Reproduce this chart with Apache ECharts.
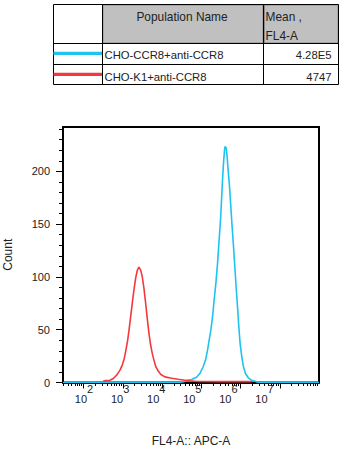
<!DOCTYPE html>
<html>
<head>
<meta charset="utf-8">
<style>
  html, body { margin: 0; padding: 0; background: #fff; overflow: hidden; }
  #chart { width: 344px; height: 454px; }
</style>
<script src="https://cdn.jsdelivr.net/npm/echarts@6/dist/echarts.min.js"></script>
</head>
<body>
<div id="chart"></div>
<script>
// Populations shown in the overlay table
const populations = ['CHO-CCR8+anti-CCR8', 'CHO-K1+anti-CCR8'];
const meanValues = ['4.28E5', '4747'];
const seriesColors = ['#1ec3ef', '#f4383c'];

// Histogram traces: x is log10(FL4-A), y is event count
const ccr8Log = [1.477, 4.45, 4.55, 4.64, 4.753, 4.880, 4.964, 5.048, 5.109, 5.160, 5.201, 5.244, 5.288, 5.328, 5.372, 5.415, 5.455, 5.491, 5.517, 5.542, 5.567, 5.593, 5.608, 5.634, 5.659, 5.684, 5.720, 5.753, 5.786, 5.822, 5.855, 5.888, 5.924, 5.957, 5.990, 6.033, 6.076, 6.127, 6.193, 6.280, 6.364, 6.44, 6.52, 8.0];
const ccr8Count = [0, 0, 0.8, 2.0, 2.8, 5.0, 8.5, 14.9, 21.2, 30.7, 40.2, 49.7, 62.4, 78.1, 93.9, 112.9, 135.0, 154.0, 173.0, 192.0, 207.8, 220.5, 223.6, 222.1, 214.1, 201.5, 185.7, 166.7, 147.7, 128.7, 109.7, 90.7, 71.7, 52.7, 36.9, 24.2, 14.8, 8.5, 4.7, 2.2, 1.5, 0.3, 0, 0];

const k1Log = [2.504, 2.674, 2.758, 2.845, 2.929, 2.987, 3.038, 3.081, 3.125, 3.165, 3.201, 3.242, 3.285, 3.328, 3.369, 3.412, 3.455, 3.496, 3.539, 3.583, 3.623, 3.667, 3.710, 3.751, 3.794, 3.837, 3.903, 3.972, 4.074, 4.244, 4.412, 4.583, 4.710, 4.9, 5.5, 6.28];
const k1Count = [1.5, 2.2, 3.8, 7.0, 11.7, 16.5, 22.8, 30.7, 40.2, 51.3, 62.4, 75.1, 87.7, 98.8, 106.1, 109.3, 106.7, 100.4, 89.4, 75.1, 60.9, 46.6, 35.5, 27.6, 21.2, 15.5, 10.8, 7.6, 5.3, 4.1, 3.1, 2.2, 1.5, 1.0, 0.8, 0.8];

// Axis ticks
const decadeExponents = [2, 3, 4, 5, 6, 7];
const minorMultipliers = [2, 3, 4, 5, 6, 7, 8, 9];
const minorDecades = [1, 2, 3, 4, 5, 6, 7];
const yTickValues = [0, 50, 100, 150, 200];

const xMin = Math.log10(30);
const xMax = 8;

const minorTickValues = [];
minorDecades.forEach(d => minorMultipliers.forEach(m => {
  const v = d + Math.log10(m);
  if (v >= xMin - 1e-9 && v <= xMax) minorTickValues.push(v);
}));

const zip = (xs, ys) => xs.map((x, i) => [x, ys[i]]);

const FONT = '"Liberation Sans", Arial, sans-serif';
const TEXT = '#222';

// Overlay table drawn above the plot
const tbl = { left: 53.5, right: 338.5, top: 4.5, head: 43.5, mid: 64.5, bottom: 84.5, c1: 102.5, c2: 263.5 };
const rowY = [55, 76.5];
const swatchY = [53.3, 74.3];

const tableGraphics = [
  { type: 'rect', shape: { x: tbl.c1 + 0.5, y: tbl.top + 0.5, width: tbl.c2 - tbl.c1 - 1, height: tbl.head - tbl.top - 1 },
    style: { fill: '#c0c0c0', stroke: '#8a8a8a', lineWidth: 1 } },
  { type: 'rect', shape: { x: tbl.c2 + 1, y: tbl.top + 0.5, width: tbl.right - tbl.c2 - 1.5, height: tbl.head - tbl.top - 1 },
    style: { fill: '#c0c0c0', stroke: '#8a8a8a', lineWidth: 1 } },
  { type: 'rect', shape: { x: tbl.left, y: tbl.top, width: tbl.right - tbl.left, height: tbl.bottom - tbl.top },
    style: { fill: 'none', stroke: '#000', lineWidth: 1 } },
  { type: 'line', shape: { x1: tbl.c1, y1: tbl.top, x2: tbl.c1, y2: tbl.bottom }, style: { stroke: '#000', lineWidth: 1 } },
  { type: 'line', shape: { x1: tbl.c2, y1: tbl.top, x2: tbl.c2, y2: tbl.bottom }, style: { stroke: '#000', lineWidth: 1 } },
  { type: 'line', shape: { x1: tbl.left, y1: tbl.head, x2: tbl.right, y2: tbl.head }, style: { stroke: '#000', lineWidth: 1 } },
  { type: 'line', shape: { x1: tbl.left, y1: tbl.mid, x2: tbl.right, y2: tbl.mid }, style: { stroke: '#000', lineWidth: 1 } },
  { type: 'text', style: { text: 'Population Name', x: 182, y: 17, font: '11.9px ' + FONT, fill: TEXT, textAlign: 'center', textVerticalAlign: 'middle' } },
  { type: 'text', style: { text: 'Mean ,', x: 265.5, y: 17, font: '11.9px ' + FONT, fill: TEXT, textAlign: 'left', textVerticalAlign: 'middle' } },
  { type: 'text', style: { text: 'FL4-A', x: 265.5, y: 35.5, font: '11.9px ' + FONT, fill: TEXT, textAlign: 'left', textVerticalAlign: 'middle' } }
];
populations.forEach((name, i) => {
  tableGraphics.push(
    { type: 'line', shape: { x1: tbl.left, y1: swatchY[i], x2: tbl.c1 - 0.5, y2: swatchY[i] }, style: { stroke: seriesColors[i], lineWidth: 3.3 } },
    { type: 'text', style: { text: name, x: 104.5, y: rowY[i], font: '11.3px ' + FONT, fill: TEXT, textAlign: 'left', textVerticalAlign: 'middle' } },
    { type: 'text', style: { text: meanValues[i], x: 331.5, y: rowY[i], font: '11.3px ' + FONT, fill: TEXT, textAlign: 'right', textVerticalAlign: 'middle' } }
  );
});

const chart = echarts.init(document.getElementById('chart'), null, { renderer: 'svg' });

chart.setOption({
  animation: false,
  backgroundColor: '#fff',
  textStyle: { fontFamily: FONT },
  grid: {
    left: 63, right: 25, top: 127, bottom: 71.5,
    containLabel: false, outerBoundsMode: 'none',
    show: true, borderColor: '#000', borderWidth: 2, backgroundColor: 'transparent'
  },
  xAxis: [
    {
      // data axis with the decade ticks
      type: 'value', min: xMin, max: xMax, position: 'bottom',
      name: 'FL4-A:: APC-A', nameLocation: 'middle', nameGap: 52,
      nameTextStyle: { fontSize: 12, color: TEXT, fontFamily: FONT },
      axisLine: { show: true, lineStyle: { color: '#000', width: 2 } },
      axisTick: { show: true, customValues: decadeExponents, length: 6, lineStyle: { color: '#000', width: 1 } },
      axisLabel: { show: false },
      splitLine: { show: false }
    },
    {
      // minor (2..9 x 10^n) ticks
      type: 'value', min: xMin, max: xMax, position: 'bottom',
      axisLine: { show: false },
      axisTick: { show: true, customValues: minorTickValues, length: 3.5, lineStyle: { color: '#000', width: 1 } },
      axisLabel: { show: false },
      splitLine: { show: false }
    },
    {
      // decade labels
      type: 'value', min: 1.418, max: 8.51, position: 'bottom',
      axisLine: { show: false },
      axisTick: { show: false },
      splitLine: { show: false },
      axisLabel: {
        show: true, margin: 0.7,
        customValues: decadeExponents,
        formatter: v => '{b|10}{s|' + v + '}',
        rich: {
          b: { fontSize: 11, color: TEXT, fontFamily: FONT, padding: [10, 0, 0, 0], verticalAlign: 'bottom' },
          s: { fontSize: 11, color: TEXT, fontFamily: FONT, verticalAlign: 'top' }
        }
      }
    }
  ],
  yAxis: {
    type: 'value', min: 0, max: 242,
    name: 'Count', nameLocation: 'middle', nameGap: 49,
    nameTextStyle: { fontSize: 12, color: TEXT, fontFamily: FONT },
    axisLine: { show: true, lineStyle: { color: '#000', width: 2 } },
    axisTick: { show: true, customValues: yTickValues, length: 7, lineStyle: { color: '#000', width: 1 } },
    minorTick: { show: true, splitNumber: 5, length: 4, lineStyle: { color: '#000', width: 1 } },
    axisLabel: { fontSize: 11, color: TEXT, margin: 13, fontFamily: FONT, customValues: yTickValues },
    splitLine: { show: false }
  },
  series: [
    {
      name: populations[0], type: 'line', xAxisIndex: 0,
      data: zip(ccr8Log, ccr8Count), showSymbol: false, symbol: 'none',
      lineStyle: { color: seriesColors[0], width: 1.6 }, z: 3
    },
    {
      name: populations[1], type: 'line', xAxisIndex: 0,
      data: zip(k1Log, k1Count), showSymbol: false, symbol: 'none',
      lineStyle: { color: seriesColors[1], width: 1.6 }, z: 4
    }
  ],
  graphic: tableGraphics
});
</script>
</body>
</html>
